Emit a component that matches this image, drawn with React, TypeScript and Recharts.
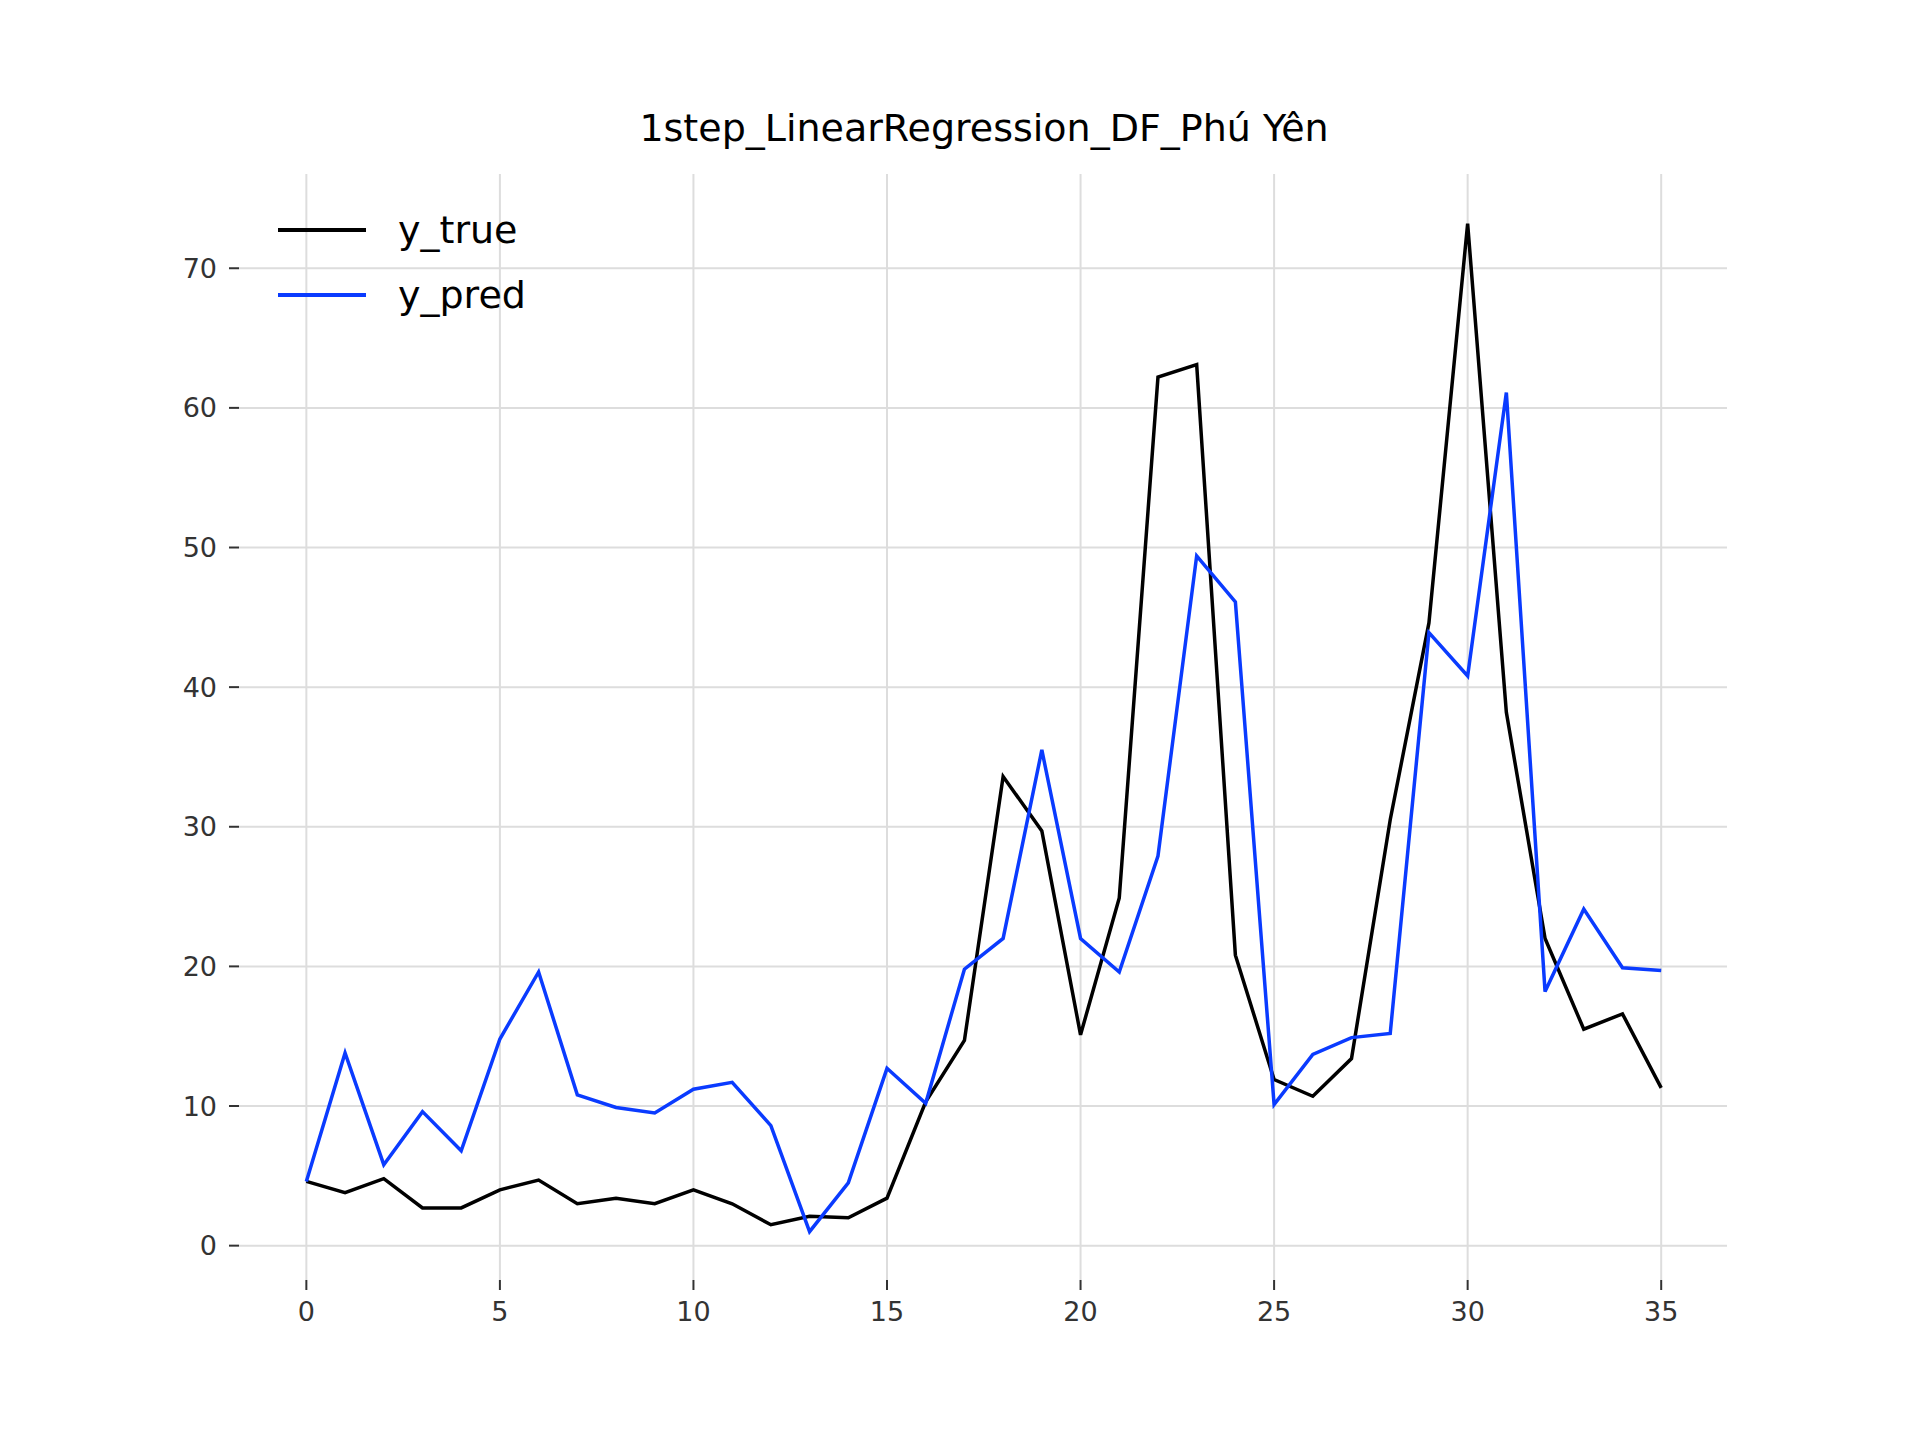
import React from "react";
import { LineChart, Line, XAxis, YAxis, CartesianGrid } from "recharts";

const steps = Array.from({ length: 36 }, (_, i) => i);
const yTrue = [4.6, 3.8, 4.8, 2.7, 2.7, 4.0, 4.7, 3.0, 3.4, 3.0, 4.0, 3.0, 1.5, 2.1, 2.0, 3.4, 10.3, 14.7, 33.6, 29.7, 15.1, 24.9, 62.2, 63.1, 20.8, 11.9, 10.7, 13.4, 30.5, 44.6, 73.2, 38.2, 22.0, 15.5, 16.6, 11.3];
const yPred = [4.6, 13.8, 5.8, 9.6, 6.8, 14.8, 19.6, 10.8, 9.9, 9.5, 11.2, 11.7, 8.6, 1.0, 4.5, 12.7, 10.2, 19.8, 22.0, 35.5, 22.0, 19.6, 27.9, 49.4, 46.1, 10.1, 13.7, 14.9, 15.2, 43.9, 40.8, 61.1, 18.2, 24.1, 19.9, 19.7];
const xTicks = [0, 5, 10, 15, 20, 25, 30, 35];
const yTicks = [0, 10, 20, 30, 40, 50, 60, 70];

const data = steps.map((s, i) => ({ step: s, y_true: yTrue[i], y_pred: yPred[i] }));

const font = "DejaVu Sans, sans-serif";
const tick = { fill: "#333", fontSize: 27, fontFamily: font };

export default function App() {
  return (
    <div style={{ position: "absolute", left: 0, top: 0, width: 1920, height: 1440, background: "#fff" }}>
      <div style={{ position: "absolute", top: 106, width: 1920, textAlign: "center", fontFamily: font, fontSize: 38 }}>
        <span style={{ position: "relative", left: 24 }}>1step_LinearRegression_DF_Phú Yên</span>
      </div>
      <LineChart width={1920} height={1440} data={data} margin={{ top: 174, right: 193, bottom: 110, left: 169 }}>
        <CartesianGrid stroke="#dddddd" strokeWidth={2} syncWithTicks />
        <XAxis
          dataKey="step"
          type="number"
          domain={[-1.74, 36.7]}
          ticks={xTicks}
          axisLine={false}
          tickLine={{ stroke: "#333", strokeWidth: 2 }}
          tickSize={10}
          height={50}
          tick={tick}
          tickMargin={12}
          allowDataOverflow
        />
        <YAxis
          type="number"
          domain={[-2.46, 76.75]}
          ticks={yTicks}
          axisLine={false}
          tickLine={{ stroke: "#333", strokeWidth: 2 }}
          tickSize={10}
          width={70}
          tick={tick}
          tickMargin={12}
          allowDataOverflow
        />
        <Line dataKey="y_true" stroke="#000" strokeWidth={3.5} dot={false} isAnimationActive={false} />
        <Line dataKey="y_pred" stroke="#0a3bff" strokeWidth={3.5} dot={false} isAnimationActive={false} />
      </LineChart>
      <div style={{ position: "absolute", left: 278, top: 207, fontFamily: font, fontSize: 38 }}>
        <div style={{ display: "flex", alignItems: "center", height: 46 }}>
          <div style={{ width: 88, height: 4, background: "#000", marginRight: 32 }} />
          <span>y_true</span>
        </div>
        <div style={{ display: "flex", alignItems: "center", height: 46, marginTop: 19 }}>
          <div style={{ width: 88, height: 4, background: "#0a3bff", marginRight: 32 }} />
          <span>y_pred</span>
        </div>
      </div>
    </div>
  );
}
